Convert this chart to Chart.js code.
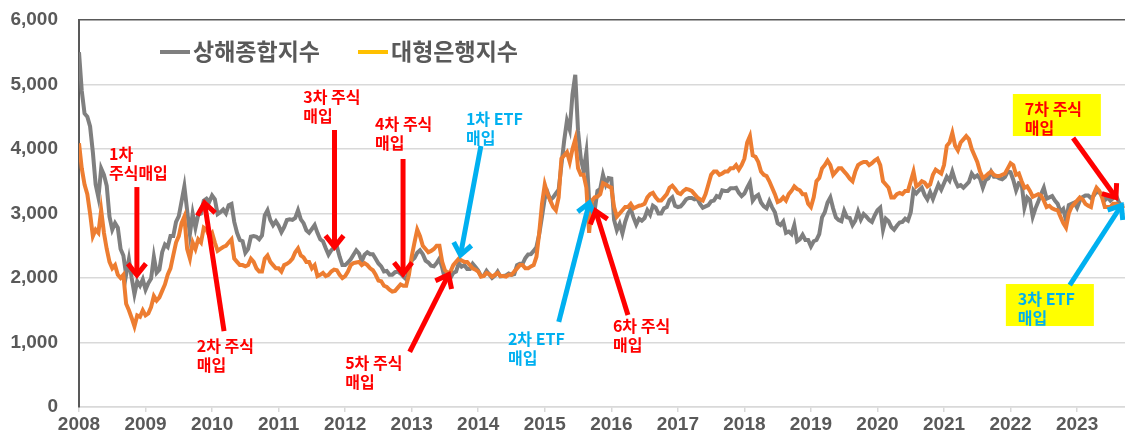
<!DOCTYPE html>
<html>
<head>
<meta charset="utf-8">
<script src="https://cdn.jsdelivr.net/npm/chart.js@4/dist/chart.umd.min.js"></script>
<style>
  html, body { margin: 0; padding: 0; background: #fff; }
  #wrap { width: 1125px; height: 434px; }
</style>
</head>
<body>
<div id="wrap"><canvas id="chart" width="1125" height="434"></canvas></div>
<script>
// Index levels twice a month (1st and 15th), Jan 2008 .. Sep 2023
const startYear = 2008;
const perYear = 24;

const shanghai = [
  5500, 4900, 4550, 4500, 4350, 3950, 3450, 3250, 3700, 3600, 3430, 2950,
  2750, 2850, 2780, 2450, 2350, 2050, 2290, 2000, 1750, 1950, 1880, 1980, // 2008
  1820, 1920, 1990, 2330, 2080, 2130, 2400, 2520, 2480, 2650, 2650, 2870,
  2960, 3190, 3420, 3050, 2680, 3000, 2780, 2980, 3000, 3200, 3230, 3180, // 2009
  3280, 3220, 2990, 3020, 3060, 3000, 3130, 3150, 2870, 2700, 2590, 2570,
  2390, 2450, 2640, 2650, 2640, 2600, 2660, 2970, 3050, 2900, 2820, 2880, // 2010
  2810, 2710, 2790, 2900, 2910, 2900, 2930, 3050, 2910, 2850, 2740, 2700,
  2760, 2820, 2700, 2600, 2570, 2460, 2360, 2430, 2470, 2490, 2330, 2200, // 2011
  2200, 2240, 2290, 2360, 2430, 2380, 2260, 2360, 2400, 2370, 2370, 2300,
  2225, 2180, 2100, 2110, 2050, 2050, 2090, 2100, 2070, 2020, 1980, 2120, // 2012
  2270, 2310, 2390, 2430, 2370, 2270, 2240, 2190, 2180, 2230, 2300, 2160,
  1980, 2050, 2000, 2080, 2100, 2230, 2175, 2200, 2140, 2140, 2220, 2170, // 2013
  2115, 2030, 2035, 2110, 2055, 2000, 2035, 2100, 2025, 2030, 2040, 2070,
  2050, 2060, 2200, 2220, 2220, 2310, 2365, 2370, 2420, 2480, 2680, 2950, // 2014
  3235, 3330, 3210, 3250, 3310, 3370, 3750, 4130, 4440, 4300, 4850, 5150,
  4280, 3850, 3660, 3950, 3200, 3150, 3050, 3350, 3380, 3600, 3450, 3550, // 2015
  3540, 2900, 2740, 2840, 2690, 2870, 3000, 3070, 2940, 2830, 2920, 2890,
  2930, 3050, 2980, 3120, 3090, 3000, 3000, 3080, 3100, 3210, 3250, 3120, // 2016
  3100, 3110, 3160, 3220, 3240, 3240, 3220, 3230, 3150, 3090, 3110, 3130,
  3190, 3200, 3270, 3250, 3360, 3350, 3350, 3390, 3390, 3400, 3320, 3270, // 2017
  3310, 3400, 3480, 3200, 3260, 3290, 3170, 3110, 3080, 3190, 3095, 3020,
  2850, 2820, 2875, 2700, 2720, 2680, 2820, 2570, 2600, 2670, 2590, 2590, // 2018
  2490, 2570, 2590, 2680, 2940, 3020, 3170, 3250, 3080, 2940, 2900, 2880,
  3040, 2940, 2930, 2820, 2890, 3030, 2905, 2990, 2950, 2900, 2870, 2970, // 2019
  3050, 3090, 2750, 2920, 2880, 2790, 2750, 2810, 2860, 2870, 2920, 2890,
  3020, 3360, 3310, 3360, 3400, 3290, 3220, 3330, 3225, 3340, 3450, 3370, // 2020
  3470, 3570, 3510, 3650, 3510, 3420, 3440, 3400, 3445, 3490, 3620, 3560,
  3590, 3540, 3400, 3520, 3545, 3650, 3570, 3570, 3545, 3530, 3565, 3650, // 2021
  3640, 3520, 3360, 3470, 3460, 3090, 3250, 3210, 2950, 3080, 3185, 3300,
  3400, 3230, 3250, 3270, 3200, 3150, 3025, 3070, 2895, 3130, 3150, 3170, // 2022
  3090, 3200, 3255, 3280, 3280, 3240, 3275, 3340, 3325, 3300, 3205, 3250,
  3200, 3240, 3290, 3180, 3120, 3120                                      // 2023
];

const bigBanks = [
  4090, 3700, 3450, 3300, 3000, 2650, 2750, 2700, 3050, 2700, 2450, 2250,
  2150, 2200, 2050, 2000, 2050, 1600, 1500, 1380, 1250, 1420, 1400, 1500, // 2008
  1420, 1450, 1550, 1720, 1650, 1700, 1800, 1900, 2050, 2150, 2350, 2550,
  2650, 2850, 2950, 2450, 2300, 2550, 2450, 2600, 2550, 2780, 2750, 2650, // 2009
  2700, 2550, 2420, 2450, 2480, 2500, 2550, 2600, 2300, 2250, 2200, 2200,
  2180, 2200, 2300, 2250, 2150, 2100, 2100, 2300, 2350, 2250, 2200, 2150, // 2010
  2150, 2100, 2200, 2220, 2250, 2300, 2400, 2460, 2350, 2320, 2250, 2250,
  2150, 2200, 2030, 2050, 2080, 2030, 2050, 2100, 2130, 2120, 2050, 2000, // 2011
  2030, 2100, 2200, 2230, 2240, 2250, 2200, 2230, 2200, 2150, 2120, 2050,
  1960, 1950, 1880, 1860, 1820, 1790, 1800, 1850, 1900, 1880, 1880, 2050, // 2012
  2330, 2550, 2750, 2650, 2500, 2450, 2400, 2420, 2450, 2500, 2500, 2250,
  2120, 2080, 2100, 2200, 2250, 2300, 2270, 2250, 2250, 2200, 2150, 2130, // 2013
  2100, 2020, 2030, 2080, 2060, 2020, 2050, 2080, 2030, 2030, 2020, 2050,
  2050, 2100, 2150, 2200, 2200, 2150, 2150, 2180, 2200, 2330, 2700, 3150, // 2014
  3450, 3300, 3200, 3100, 3050, 3250, 3850, 3900, 3950, 3800, 4000, 4150,
  3700, 3600, 3600, 3400, 2700, 3200, 3250, 3260, 3300, 3470, 3450, 3420, // 2015
  3400, 3100, 2950, 3000, 3050, 3100, 3100, 3150, 3080, 3100, 3120, 3130,
  3150, 3250, 3300, 3320, 3250, 3200, 3200, 3250, 3300, 3400, 3430, 3380, // 2016
  3320, 3300, 3350, 3380, 3370, 3350, 3300, 3250, 3220, 3200, 3300, 3450,
  3600, 3650, 3650, 3600, 3620, 3650, 3650, 3700, 3700, 3750, 3680, 3750, // 2017
  3850, 4100, 4200, 3900, 3880, 3800, 3650, 3600, 3580, 3500, 3400, 3300,
  3180, 3200, 3250, 3200, 3300, 3350, 3420, 3380, 3360, 3300, 3300, 3150, // 2018
  3100, 3250, 3500, 3550, 3700, 3750, 3820, 3750, 3600, 3650, 3700, 3700,
  3650, 3600, 3540, 3500, 3650, 3750, 3780, 3800, 3800, 3750, 3780, 3820, // 2019
  3850, 3750, 3500, 3450, 3400, 3250, 3250, 3300, 3320, 3300, 3350, 3350,
  3500, 3650, 3420, 3450, 3500, 3480, 3420, 3450, 3600, 3680, 3650, 3620, // 2020
  3750, 4050, 4100, 4250, 4050, 3980, 4100, 4150, 4200, 4150, 4000, 3900,
  3800, 3650, 3550, 3580, 3620, 3650, 3600, 3580, 3580, 3600, 3620, 3700, // 2021
  3780, 3750, 3600, 3620, 3500, 3400, 3420, 3350, 3260, 3280, 3300, 3280,
  3200, 3100, 3120, 3080, 3060, 3050, 2950, 2850, 2780, 3000, 3100, 3150, // 2022
  3200, 3250, 3220, 3150, 3120, 3100, 3300, 3400, 3350, 3250, 3100, 3100,
  3100, 3150, 3150, 3130, 3100, 3120                                      // 2023
];

const yTicks = [0, 1000, 2000, 3000, 4000, 5000, 6000];
const seriesNames = ['상해종합지수', '대형은행지수'];

// purchase notes: text, arrow tail -> tip, in (year, index value)
const notes = [
  { lines: ['1차', '주식매입'], at: [2008.45, 3922], tail: [2008.87, 3410], tip: [2008.87, 2000], color: '#FF0000' },
  { lines: ['2차 주식', '매입'], at: [2009.77, 946], tail: [2010.18, 1178], tip: [2009.88, 3209], color: '#FF0000' },
  { lines: ['3차 주식', '매입'], at: [2011.37, 4806], tail: [2011.84, 4295], tip: [2011.84, 2434], color: '#FF0000' },
  { lines: ['4차 주식', '매입'], at: [2012.45, 4388], tail: [2012.87, 3845], tip: [2012.87, 2016], color: '#FF0000' },
  { lines: ['5차 주식', '매입'], at: [2012.0, 682], tail: [2012.97, 853], tip: [2013.575, 2093], color: '#FF0000' },
  { lines: ['1차 ETF', '매입'], at: [2013.815, 4465], tail: [2014.04, 4047], tip: [2013.725, 2310], color: '#00B0F0' },
  { lines: ['2차 ETF', '매입'], at: [2014.446, 1054], tail: [2015.21, 1318], tip: [2015.68, 3209], color: '#00B0F0' },
  { lines: ['6차 주식', '매입'], at: [2016.024, 1256], tail: [2016.25, 1426], tip: [2015.75, 3085], color: '#FF0000' },
  { lines: ['7차 주식', '매입'], at: [2022.215, 4620], tail: [2022.94, 4171], tip: [2023.61, 3209], color: '#FF0000', box: true },
  { lines: ['3차 ETF', '매입'], at: [2022.11, 1674], tail: [2022.89, 1891], tip: [2023.69, 3163], color: '#00B0F0', box: true }
];

const toPoints = vals => vals.map((v, i) => ({ x: startYear + i / perYear, y: v }));

const textGray = '#595959';
const cjk = '"Noto Sans CJK KR", "Noto Sans", sans-serif';

// Legend drawn inside the plot, with the gold sample for the bank index
const legendPlugin = {
  id: 'insideLegend',
  afterDraw(chart) {
    const ctx = chart.ctx;
    const top = chart.chartArea.top;
    const items = [
      { x: 160, color: '#7F7F7F', text: seriesNames[0] },
      { x: 358, color: '#FFC000', text: seriesNames[1] }
    ];
    ctx.save();
    ctx.font = 'bold 23px ' + cjk;
    ctx.textBaseline = 'middle';
    items.forEach(it => {
      ctx.strokeStyle = it.color;
      ctx.lineWidth = 4;
      ctx.beginPath();
      ctx.moveTo(it.x, top + 32);
      ctx.lineTo(it.x + 30, top + 32);
      ctx.stroke();
      ctx.fillStyle = textGray;
      ctx.fillText(it.text, it.x + 33, top + 31);
    });
    ctx.restore();
  }
};

function arrow(ctx, x1, y1, x2, y2, color) {
  const ang = Math.atan2(y2 - y1, x2 - x1);
  const len = 17, spread = 0.56;
  ctx.strokeStyle = color;
  ctx.lineWidth = 5;
  ctx.lineCap = 'butt';
  ctx.beginPath();
  ctx.moveTo(x1, y1);
  ctx.lineTo(x2 - Math.cos(ang) * 3, y2 - Math.sin(ang) * 3);
  ctx.stroke();
  ctx.lineJoin = 'miter';
  ctx.beginPath();
  ctx.moveTo(x2 - len * Math.cos(ang - spread), y2 - len * Math.sin(ang - spread));
  ctx.lineTo(x2 - Math.cos(ang) * 3, y2 - Math.sin(ang) * 3);
  ctx.lineTo(x2 - len * Math.cos(ang + spread), y2 - len * Math.sin(ang + spread));
  ctx.stroke();
}

const notesPlugin = {
  id: 'notes',
  afterDatasetsDraw(chart) {
    const { ctx, scales: { x, y } } = chart;
    ctx.save();
    ctx.font = 'bold 16px ' + cjk;
    ctx.textBaseline = 'middle';
    notes.forEach(n => {
      const tx = x.getPixelForValue(n.at[0]);
      const ty = y.getPixelForValue(n.at[1]);
      if (n.box) {
        ctx.fillStyle = '#FFFF00';
        ctx.fillRect(tx - 12, ty - 15, 88, 42);
      }
      ctx.fillStyle = n.color;
      n.lines.forEach((t, i) => ctx.fillText(t, tx, ty + i * 18.5));
    });
    notes.forEach(n => {
      arrow(ctx,
        x.getPixelForValue(n.tail[0]), y.getPixelForValue(n.tail[1]),
        x.getPixelForValue(n.tip[0]), y.getPixelForValue(n.tip[1]), n.color);
    });
    ctx.restore();
  }
};

new Chart(document.getElementById('chart'), {
  type: 'line',
  data: {
    datasets: [
      {
        label: seriesNames[0],
        data: toPoints(shanghai),
        borderColor: '#7F7F7F',
        borderWidth: 4,
        pointRadius: 0,
        order: 2
      },
      {
        label: seriesNames[1],
        data: toPoints(bigBanks),
        borderColor: '#ED7D31',
        borderWidth: 4,
        pointRadius: 0,
        order: 1
      }
    ]
  },
  options: {
    responsive: false,
    animation: false,
    layout: { padding: { top: 20, right: 0, left: 0, bottom: 0 } },
    plugins: {
      legend: { display: false },
      tooltip: { enabled: false }
    },
    scales: {
      x: {
        type: 'linear',
        min: 2008,
        max: 2023.72,
        afterFit: s => { s.height = 27; },
        border: { color: '#D9D9D9', width: 1.5 },
        grid: { drawOnChartArea: false, tickLength: 5, color: '#D9D9D9', lineWidth: 1.5 },
        ticks: {
          stepSize: 1,
          includeBounds: false,
          padding: 1,
          maxRotation: 0,
          color: textGray,
          font: { family: '"Liberation Sans", Arial, sans-serif', size: 19, weight: 'bold' },
          callback: v => String(v)
        }
      },
      y: {
        min: 0,
        max: 6000,
        afterFit: s => { s.width = 79; },
        afterBuildTicks: s => { s.ticks = yTicks.map(v => ({ value: v })); },
        border: { color: textGray, width: 2 },
        grid: {
          tickLength: 21,
          tickColor: 'rgba(0,0,0,0)',
          lineWidth: 1.5,
          color: c => (c.tick && c.tick.value === 6000) ? textGray : '#D9D9D9'
        },
        ticks: {
          padding: 0,
          color: textGray,
          font: { family: '"Liberation Sans", Arial, sans-serif', size: 19, weight: 'bold' },
          callback: v => v.toLocaleString('en-US')
        }
      }
    }
  },
  plugins: [notesPlugin, legendPlugin]
});
</script>
</body>
</html>
